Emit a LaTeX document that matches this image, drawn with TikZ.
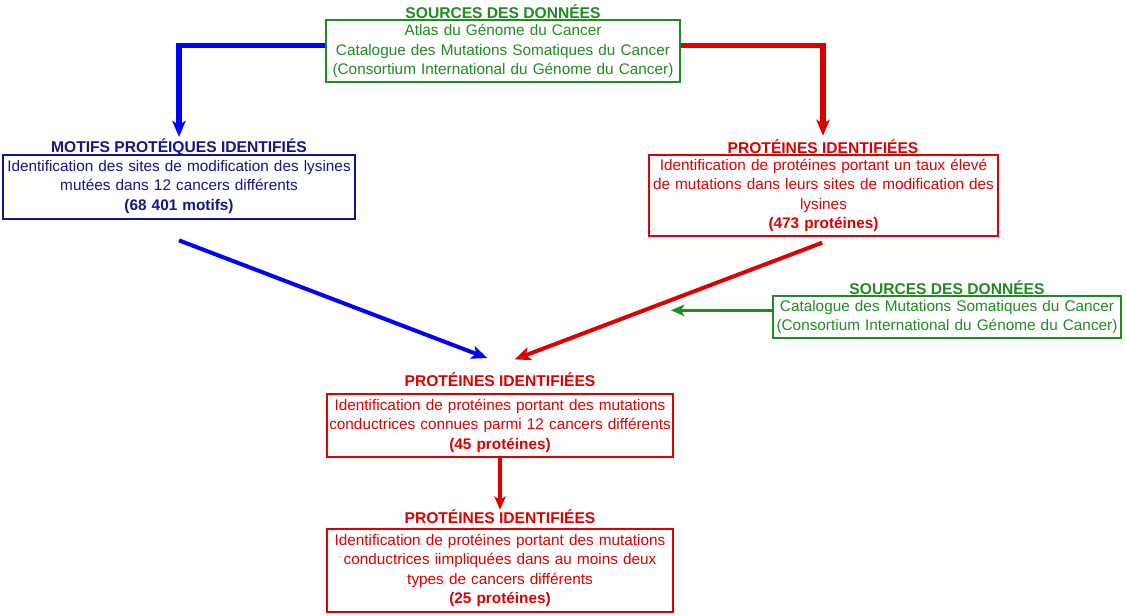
\documentclass[tikz,border=0pt]{standalone}
\usepackage{fontspec}
\setmainfont{Liberation Sans}
\usetikzlibrary{arrows.meta,calc}
\definecolor{dgreen}{RGB}{30,140,30}
\definecolor{navy}{RGB}{20,20,140}
\definecolor{bblue}{RGB}{0,0,255}
\definecolor{rred}{RGB}{220,0,0}
\begin{document}
\begin{tikzpicture}[x=0.75pt,y=-0.75pt,
  every node/.style={font=\fontsize{11.5}{14.6}\selectfont},
  box/.style={draw,line width=1.1pt,inner sep=0pt,align=center},
  head/.style={font=\fontsize{11.7}{14.6}\selectfont\bfseries,inner sep=0pt},
  arr/.style={-{Stealth[length=12pt,width=10pt,inset=3pt]}},
  arrs/.style={-{Stealth[length=10pt,width=8.5pt,inset=2.5pt]}},
]
\useasboundingbox (0,0) rectangle (1126,616);
% top source
\node[head,text=dgreen] (h0) at (503,12) {SOURCES DES DONNÉES};
\node[box,draw=dgreen,text=dgreen,minimum width=265.5pt,minimum height=46.5pt,text width=264pt] (src) at (503,51)
  {Atlas du Génome du Cancer\\Catalogue des Mutations Somatiques du Cancer\\(Consortium International du Génome du Cancer)};
% blue branch
\node[head,text=navy] (h1) at (179,147) {MOTIFS PROTÉIQUES IDENTIFIÉS};
\node[box,draw=navy,text=navy,minimum width=264pt,minimum height=48pt,text width=263pt] (motifs) at (179,187)
  {Identification des sites de modification des lysines\\mutées dans 12 cancers différents\\\textbf{(68 401 motifs)}};
% red branch
\node[head,text=rred] (h2) at (823,147) {PROTÉINES IDENTIFIÉES};
\node[box,draw=rred,text=rred,minimum width=261.75pt,minimum height=60.75pt,text width=260pt] (prot) at (823.5,195.5)
  {Identification de protéines portant un taux élevé\\de mutations dans leurs sites de modification des\\lysines\\\textbf{(473 protéines)}};
% second source
\node[head,text=dgreen] (h5) at (947,288) {SOURCES DES DONNÉES};
\node[box,draw=dgreen,text=dgreen,minimum width=261pt,minimum height=31.5pt,text width=260pt] (src2) at (947,317)
  {Catalogue des Mutations Somatiques du Cancer\\(Consortium International du Génome du Cancer)};
% third
\node[head,text=rred] (h3) at (500,380) {PROTÉINES IDENTIFIÉES};
\node[box,draw=rred,text=rred,minimum width=259.5pt,minimum height=47.25pt,text width=258pt] (p45) at (500,425.5)
  {Identification de protéines portant des mutations\\conductrices connues parmi 12 cancers différents\\\textbf{(45 protéines)}};
% fourth
\node[head,text=rred] (h4) at (500,517) {PROTÉINES IDENTIFIÉES};
\node[box,draw=rred,text=rred,minimum width=259.5pt,minimum height=62.25pt,text width=258pt] (p25) at (500,570.5)
  {Identification de protéines portant des mutations\\conductrices iimpliquées dans au moins deux\\types de cancers différents\\\textbf{(25 protéines)}};
% connectors
\draw[arr,bblue,line width=3.8pt] ([yshift=4pt]src.west) -| ([yshift=1pt]h1.north);
\draw[arr,rred,line width=3.8pt] ([yshift=4pt]src.east) -| ([yshift=3pt]h2.north);
\draw[arr,bblue,line width=3pt] ([yshift=-15.5pt]motifs.south) -- ([xshift=-9.5pt,yshift=11pt]h3.north);
\draw[arr,rred,line width=3pt] ([xshift=-1pt,yshift=-4.5pt]prot.south) -- ([xshift=11pt,yshift=10pt]h3.north);
\draw[arrs,dgreen,line width=2.2pt] ([yshift=5pt]src2.west) -- ++(-76pt,0) coordinate (g);
\draw[arrs,rred,line width=2.4pt] (p45.south) -- (p45.south |- h4.north);
\end{tikzpicture}
\end{document}
